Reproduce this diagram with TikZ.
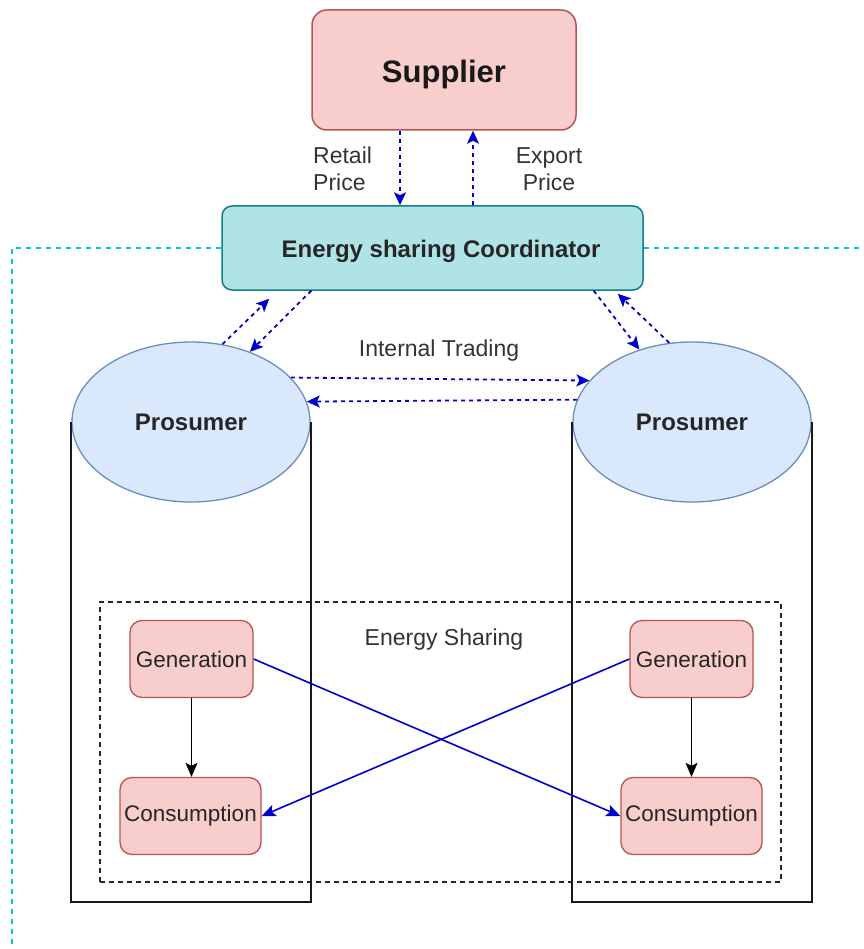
\documentclass[tikz,border=0pt]{standalone}
\usepackage{fontspec}
\setmainfont{Liberation Sans}
\usetikzlibrary{arrows.meta,positioning,calc,shapes.geometric}
\definecolor{suppink}{HTML}{F8CECC}
\definecolor{supred}{HTML}{B85450}
\definecolor{coordteal}{HTML}{B0E3E6}
\definecolor{coorddark}{HTML}{0E8088}
\definecolor{prosblue}{HTML}{DAE8FC}
\definecolor{prosedge}{HTML}{6C8EBF}
\definecolor{flowblue}{HTML}{0000CC}
\definecolor{zonecyan}{HTML}{00CCCC}
\definecolor{labelgray}{HTML}{333333}
\tikzset{
  supbox/.style={draw=supred, fill=suppink, rounded corners=15pt, line width=1.5pt,
    minimum width=264pt, minimum height=120pt, inner sep=0pt,
    font=\fontsize{31}{36}\selectfont\bfseries, text=black!90},
  coordbox/.style={draw=coorddark, fill=coordteal, rounded corners=10pt, line width=1.5pt,
    minimum width=421pt, minimum height=84pt, inner sep=0pt,
    font=\fontsize{24}{28}\selectfont\bfseries, text=black!85},
  prosumer/.style={ellipse, draw=prosedge, fill=prosblue, line width=1.3pt,
    minimum width=238pt, minimum height=160pt, inner sep=0pt,
    font=\fontsize{24}{28}\selectfont\bfseries, text=black!85},
  unit/.style={draw=supred, fill=suppink, rounded corners=12pt, line width=1.3pt,
    minimum height=77pt, inner sep=0pt,
    font=\fontsize{22.5}{26}\selectfont, text=black!85},
  note/.style={font=\fontsize{23}{27}\selectfont, text=labelgray, inner sep=0pt},
  % dashed price / trading links
  flow/.style={-{Stealth[length=13pt,width=12pt,inset=3pt]}, line width=1.8pt,
    color=flowblue, dash pattern=on 4pt off 4pt},
  % energy flows between units
  share/.style={-{Stealth[length=14pt,width=12pt,inset=3pt]}, line width=1.6pt, color=flowblue},
  own/.style={-{Stealth[length=14pt,width=12pt,inset=3pt]}, line width=1.8pt, color=black},
  zone/.style={draw=zonecyan, line width=1.5pt, dash pattern=on 5pt off 5pt},
  group/.style={draw=black!85, line width=1.7pt, dash pattern=on 5pt off 4pt,
    inner sep=0pt},
  tower/.style={draw=black!90, line width=2pt},
}
\begin{document}
\begin{tikzpicture}[x=1pt,y=-1pt]
  \useasboundingbox (0,0) rectangle (863,949);
  % energy sharing group
  \node[group, minimum width=681pt, minimum height=280pt] (esg) at (440.5,742) {};
  \node[note] (eslabel) at (444,640) {Energy Sharing};
  % top level
  \node[supbox] (sup) at (444,70) {\raisebox{-4pt}[\height][\depth]{Supplier}};
  \node[coordbox] (coord) at (432.5,248)
    {\hspace{17pt}\raisebox{-3.5pt}[\height][\depth]{Energy sharing Coordinator}};
  \coordinate (zl) at (12,248);
  \coordinate (zb) at (12,949);
  \coordinate (zr) at (863,248);
  \draw[zone] (coord.west) -- (zl) -- (zb);
  \draw[zone] (coord.east) -- (zr);
  \node[note, align=left, anchor=west] (retail) at (313,169) {Retail\\Price};
  \node[note, align=center] (export) at (549,169) {Export\\Price};
  \draw[flow] ($(sup.south)+(-44,0)$) -- ($(coord.north)+(-32.5,0)$);
  \draw[flow] ($(coord.north)+(40.5,0)$) -- ($(sup.south)+(29,0)$);
  % prosumers
  \node[prosumer] (pl) at (191,422) {Prosumer};
  \node[prosumer] (pr) at (692,422) {Prosumer};
  \draw[tower] (pl.west) -- ++(0,480) -| (pl.east);
  \draw[tower] (pr.west) -- ++(0,480) -| (pr.east);
  \draw[flow] (pl.68) -- ($(coord.south west)+(48,8)$);
  \draw[flow] ($(coord.south west)+(90,0)$) -- (pl.50);
  \draw[flow] ($(coord.south east)+(-50,0)$) -- (pr.126);
  \draw[flow] (pr.106) -- ($(coord.south east)+(-26,3)$);
  \node[note] (trading) at (439,351) {Internal Trading};
  \draw[flow] (pl.24) -- (pr.158);
  \draw[flow] (pr.169) -- (pl.10);
  % generation and consumption
  \node[unit, minimum width=123pt] (gl) at (191.5,659) {Generation};
  \node[unit, minimum width=141pt] (cl) at (190.5,816) {Consumption};
  \node[unit, minimum width=123pt] (gr) at (691.5,659) {Generation};
  \node[unit, minimum width=141pt] (cr) at (691.5,816) {Consumption};
  \draw[own] (gl.south) -- (gl.south |- cl.north);
  \draw[own] (gr.south) -- (gr.south |- cr.north);
  \draw[share] (gl.east) -- (cr.west);
  \draw[share] (gr.west) -- (cl.east);
\end{tikzpicture}
\end{document}
